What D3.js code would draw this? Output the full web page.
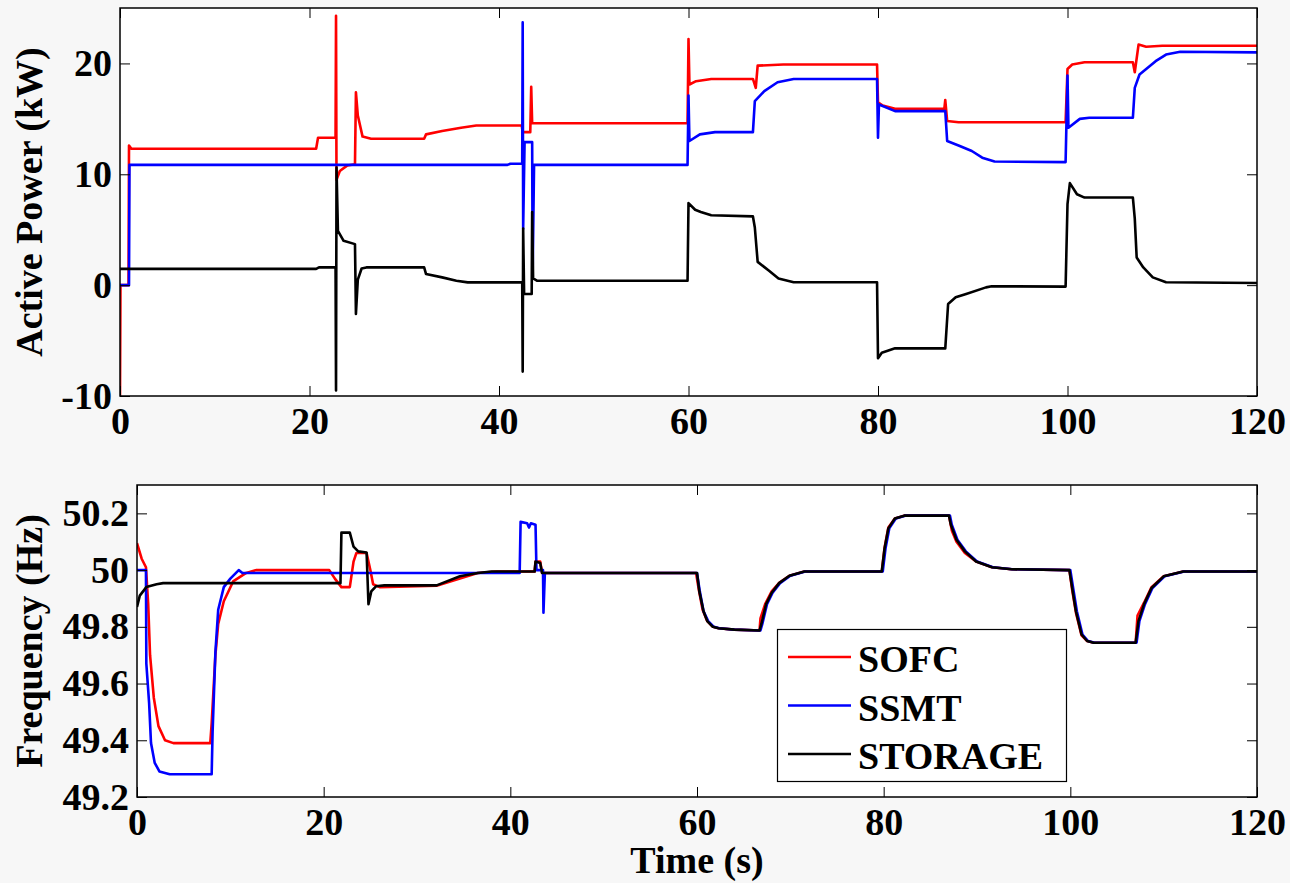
<!DOCTYPE html>
<html>
<head>
<meta charset="utf-8">
<script src="https://cdn.jsdelivr.net/npm/d3@7"></script>
<style>
  body { margin: 0; background: #f7f7f7; }
  svg { display: block; }
  .tick text, .lbl { font-family: "Liberation Serif", "Times New Roman", serif; font-weight: bold; fill: #000; }
  .tick line { stroke: #000; stroke-width: 1; }
</style>
</head>
<body>
<div id="chart"></div>
<script>
// time ticks and value ticks
var timeTicks = [0, 20, 40, 60, 80, 100, 120];
var powerTicks = [-10, 0, 10, 20];
var freqTicks = [49.2, 49.4, 49.6, 49.8, 50, 50.2];
var seriesNames = ["SOFC", "SSMT", "STORAGE"];

// active power (kW), [time s, value]
var powerSofc = [[0,-10],[0.05,0],[0.9,0],[0.95,12.6],[1.2,12.3],[20.7,12.3],[20.9,13.3],[22.75,13.3],[22.8,24.3],[22.85,9.5],[23.2,10.3],[24,10.8],[24.8,10.9],[24.9,17.4],[25.1,15.3],[25.6,13.4],[26.5,13.2],[32.1,13.2],[32.3,13.6],[34,13.9],[36,14.2],[37.6,14.4],[42.4,14.4],[42.5,13.8],[43.3,13.8],[43.4,17.9],[43.5,14.6],[59.9,14.6],[60,22.2],[60.1,18.1],[60.8,18.4],[62.4,18.6],[66.8,18.6],[67.1,17.8],[67.3,19.8],[70,19.9],[79.9,19.9],[80,16.5],[80.5,16.2],[81.8,15.9],[87,15.9],[87.1,16.7],[87.3,14.8],[88.5,14.7],[99.8,14.7],[100,19.5],[100.5,19.9],[101.8,20.1],[106.9,20.1],[107.1,19.2],[107.5,21.7],[108.3,21.5],[110,21.6],[120,21.6]];
var powerSsmt = [[0,0],[0.95,0],[1.0,10.85],[40.9,10.85],[41.2,10.95],[42.45,10.95],[42.5,23.7],[42.55,5.1],[42.7,12.9],[43.5,12.9],[43.55,1],[43.7,10.85],[59.9,10.85],[60,17.1],[60.1,13.0],[61.2,13.6],[62.8,13.8],[66.8,13.8],[67,16.6],[68,17.5],[69.4,18.3],[71.1,18.6],[79.9,18.6],[80,13.3],[80.1,16.3],[81.8,15.7],[87.1,15.7],[87.3,13.0],[88.5,12.6],[89.9,12.1],[91,11.5],[92.3,11.15],[99.8,11.1],[100,18.9],[100.1,14.2],[101.3,15.0],[102.3,15.1],[106.9,15.1],[107.1,17.8],[107.6,19.0],[109.3,20.2],[110.4,20.8],[111.9,21.05],[120,21.0]];
var powerStorage = [[0,1.47],[20.7,1.47],[21,1.6],[22.75,1.6],[22.8,-9.5],[22.85,10.6],[23,4.9],[23.6,4.0],[24.8,3.7],[24.9,-2.6],[25.1,0.5],[25.5,1.5],[26,1.6],[32.1,1.6],[32.3,1.0],[34,0.7],[35.5,0.4],[36.7,0.25],[42.45,0.25],[42.5,-7.8],[42.55,5.1],[42.65,-0.8],[43.45,-0.8],[43.5,6.6],[43.6,0.6],[44,0.4],[59.9,0.4],[60,7.4],[60.7,6.8],[61.3,6.6],[62.4,6.3],[66.8,6.2],[67.0,5.2],[67.3,2.1],[68.5,1.3],[69.5,0.6],[71.1,0.26],[79.9,0.26],[80,-6.6],[80.4,-6.1],[81.8,-5.7],[87.1,-5.7],[87.4,-1.7],[88.2,-1.1],[89.3,-0.8],[91.4,-0.2],[92,-0.1],[99.8,-0.13],[100,7.3],[100.25,9.2],[101,8.2],[101.8,7.9],[106.9,7.9],[107.1,6.0],[107.3,2.5],[108,1.6],[109,0.7],[110.4,0.26],[120,0.2]];

// frequency (Hz), [time s, value]
var freqSofc = [[0,50.095],[0.5,50.04],[0.96,50.01],[1.2,49.88],[1.4,49.7],[1.8,49.55],[2.3,49.45],[3.0,49.40],[3.9,49.39],[7.85,49.39],[8.0,49.46],[8.4,49.70],[8.7,49.81],[9.3,49.89],[10.3,49.96],[11.7,49.99],[12.8,50.0],[20.6,50.0],[21.2,49.97],[21.9,49.94],[22.8,49.94],[23.2,50.03],[23.5,50.06],[24.6,50.06],[25.0,50.0],[25.3,49.95],[26.0,49.94],[32.1,49.945],[34.6,49.97],[36.5,49.99],[38.5,49.995],[42.6,49.995],[42.7,50.03],[43.2,50.03],[43.4,49.99],[59.9,49.99],[60.2,49.93],[60.6,49.86],[61.1,49.82],[61.7,49.80],[62.3,49.795],[64,49.79],[66.7,49.787],[66.8,49.83],[67.3,49.88],[68,49.925],[68.8,49.955],[69.9,49.98],[71.5,49.995],[79.8,49.995],[80.1,50.08],[80.5,50.15],[81.2,50.182],[82.2,50.192],[87,50.192],[87.3,50.14],[87.8,50.1],[88.7,50.06],[89.9,50.03],[91.6,50.01],[93.7,50.003],[99.9,50.0],[100.2,49.93],[100.6,49.85],[101.2,49.77],[101.8,49.75],[102.5,49.744],[107,49.744],[107.2,49.84],[107.9,49.885],[108.7,49.94],[110,49.978],[112.1,49.995],[120,49.995]];
var freqSsmt = [[0,50.0],[0.96,50.0],[1.0,49.67],[1.3,49.53],[1.5,49.39],[1.9,49.32],[2.4,49.29],[3.5,49.28],[8.0,49.28],[8.1,49.43],[8.4,49.71],[8.7,49.86],[9.3,49.94],[10.0,49.97],[10.9,50.0],[11.3,49.99],[41,49.99],[41.1,50.17],[41.8,50.165],[42.0,50.15],[42.2,50.165],[42.7,50.16],[42.8,50.0],[43.5,50.0],[43.55,49.85],[43.7,49.99],[60,49.99],[60.3,49.925],[60.7,49.855],[61.2,49.82],[61.8,49.80],[62.4,49.795],[64,49.79],[66.8,49.787],[67,49.81],[67.5,49.88],[68.1,49.92],[68.9,49.954],[70,49.98],[71.6,49.995],[79.9,49.995],[80.2,50.077],[80.6,50.147],[81.3,50.182],[82.3,50.192],[87.1,50.192],[87.3,50.16],[87.9,50.107],[88.8,50.066],[90,50.03],[91.7,50.01],[93.8,50.003],[100,50.0],[100.3,49.937],[100.7,49.855],[101.3,49.773],[101.9,49.75],[102.6,49.744],[107.1,49.744],[107.4,49.82],[108,49.88],[108.8,49.937],[110.1,49.978],[112.2,49.995],[120,49.995]];
var freqStorage = [[0,49.87],[0.3,49.91],[1.0,49.94],[2.1,49.95],[2.8,49.954],[21.8,49.954],[21.9,50.132],[22.8,50.132],[23.2,50.083],[23.7,50.066],[24.6,50.062],[24.8,49.88],[25.1,49.925],[25.6,49.943],[26.5,49.946],[32.1,49.946],[34.6,49.978],[36.5,49.99],[38,49.995],[42.6,49.995],[42.7,50.03],[43.2,50.025],[43.4,49.99],[60,49.99],[60.25,49.925],[60.7,49.855],[61.1,49.82],[61.7,49.80],[62.3,49.795],[64,49.79],[66.7,49.787],[66.9,49.81],[67.4,49.88],[68,49.92],[68.8,49.954],[69.9,49.98],[71.5,49.995],[79.8,49.995],[80.1,50.077],[80.5,50.147],[81.2,50.182],[82.2,50.192],[87,50.192],[87.2,50.16],[87.8,50.107],[88.7,50.066],[89.9,50.03],[91.6,50.01],[93.7,50.003],[99.9,50.0],[100.2,49.937],[100.6,49.855],[101.2,49.773],[101.8,49.75],[102.5,49.744],[107,49.744],[107.3,49.82],[107.9,49.88],[108.7,49.937],[110,49.978],[112.1,49.995],[120,49.995]];

var colors = ["#ff0000", "#0000ff", "#000000"];
var W = 1290, H = 883;
var fontSize = 38;

// plain labels: "50" not "50.0", hyphen instead of unicode minus
function plain(d) { return String(d); }

var svg = d3.select("#chart").append("svg")
  .attr("width", W)
  .attr("height", H)
;

drawPanel({
  id: "power",
  left: 120, right: 1257, top: 8, bottom: 396,
  yDomain: [-10, 25], yTicks: powerTicks,
  series: [powerSofc, powerSsmt, powerStorage],
  yLabel: "Active Power (kW)"
});

var freqPanel = drawPanel({
  id: "freq",
  left: 137, right: 1257, top: 485, bottom: 797,
  yDomain: [49.2, 50.3], yTicks: freqTicks,
  series: [freqSofc, freqSsmt, freqStorage],
  yLabel: "Frequency (Hz)"
});

// x label
svg.append("text")
  .attr("class", "lbl")
  .attr("x", (137 + 1257) / 2)
  .attr("y", 873)
  .style("font-size", fontSize + "px")
  .style("text-anchor", "middle")
  .text("Time (s)")
;

drawLegend(freqPanel);

function drawPanel(cfg) {
  var x = d3.scaleLinear().domain([0, 120]).range([cfg.left, cfg.right]);
  var y = d3.scaleLinear().domain(cfg.yDomain).range([cfg.bottom, cfg.top]);
  var g = svg.append("g").attr("id", cfg.id);

  g.append("rect")
    .attr("x", cfg.left)
    .attr("y", cfg.top)
    .attr("width", cfg.right - cfg.left)
    .attr("height", cfg.bottom - cfg.top)
    .attr("fill", "#fff")
  ;

  g.append("clipPath")
    .attr("id", "clip-" + cfg.id)
    .append("rect")
    .attr("x", cfg.left)
    .attr("y", cfg.top)
    .attr("width", cfg.right - cfg.left)
    .attr("height", cfg.bottom - cfg.top)
  ;

  var line = d3.line()
    .x(function(d) { return x(d[0]); })
    .y(function(d) { return y(d[1]); })
  ;

  g.append("g")
    .attr("clip-path", "url(#clip-" + cfg.id + ")")
    .selectAll("path")
    .data(cfg.series)
    .enter().append("path")
      .attr("d", line)
      .attr("fill", "none")
      .attr("stroke", function(d, i) { return colors[i]; })
      .attr("stroke-width", 2.6)
      .attr("stroke-linejoin", "round")
  ;

  // bottom axis with labels, ticks pointing inward
  g.append("g")
    .attr("transform", "translate(0," + cfg.bottom + ")")
    .call(d3.axisBottom(x).tickValues(timeTicks).tickFormat(plain)
      .tickSize(-10).tickSizeOuter(0).tickPadding(11))
  ;
  g.append("g")
    .attr("transform", "translate(" + cfg.left + ",0)")
    .call(d3.axisLeft(y).tickValues(cfg.yTicks).tickFormat(plain)
      .tickSize(-10).tickSizeOuter(0).tickPadding(8))
  ;
  g.append("g")
    .attr("transform", "translate(0," + cfg.top + ")")
    .call(d3.axisTop(x).tickValues(timeTicks).tickSize(-10).tickSizeOuter(0).tickFormat(""))
  ;
  g.append("g")
    .attr("transform", "translate(" + cfg.right + ",0)")
    .call(d3.axisRight(y).tickValues(cfg.yTicks).tickSize(-10).tickSizeOuter(0).tickFormat(""))
  ;
  g.selectAll(".domain").remove();
  g.selectAll(".tick text").style("font-size", fontSize + "px").attr("fill", "#000");

  // frame
  g.append("rect")
    .attr("x", cfg.left)
    .attr("y", cfg.top)
    .attr("width", cfg.right - cfg.left)
    .attr("height", cfg.bottom - cfg.top)
    .attr("fill", "none")
    .attr("stroke", "#000")
    .attr("stroke-width", 1.5)
  ;

  svg.append("text")
    .attr("class", "lbl")
    .attr("transform", "translate(42," + (cfg.top + cfg.bottom) / 2 + ") rotate(-90)")
    .style("font-size", fontSize + "px")
    .style("text-anchor", "middle")
    .text(cfg.yLabel)
  ;

  return {x: x, y: y, g: g};
}

function drawLegend(panel) {
  var lg = panel.g.append("g").attr("class", "legend");
  lg.append("rect")
    .attr("x", 777.5)
    .attr("y", 629.5)
    .attr("width", 289)
    .attr("height", 152)
    .attr("fill", "#fff")
    .attr("stroke", "#000")
    .attr("stroke-width", 1.2)
  ;
  var rows = lg.selectAll("g.row")
    .data(seriesNames)
    .enter().append("g")
      .attr("class", "row")
      .attr("transform", function(d, i) { return "translate(0," + (657 + i * 48.5) + ")"; })
  ;
  rows.append("line")
    .attr("x1", 788)
    .attr("x2", 851)
    .attr("stroke", function(d, i) { return colors[i]; })
    .attr("stroke-width", 2.6)
  ;
  rows.append("text")
    .attr("class", "lbl")
    .attr("x", 858)
    .attr("y", 15)
    .style("font-size", fontSize + "px")
    .text(function(d) { return d; })
  ;
}
</script>
</body>
</html>
